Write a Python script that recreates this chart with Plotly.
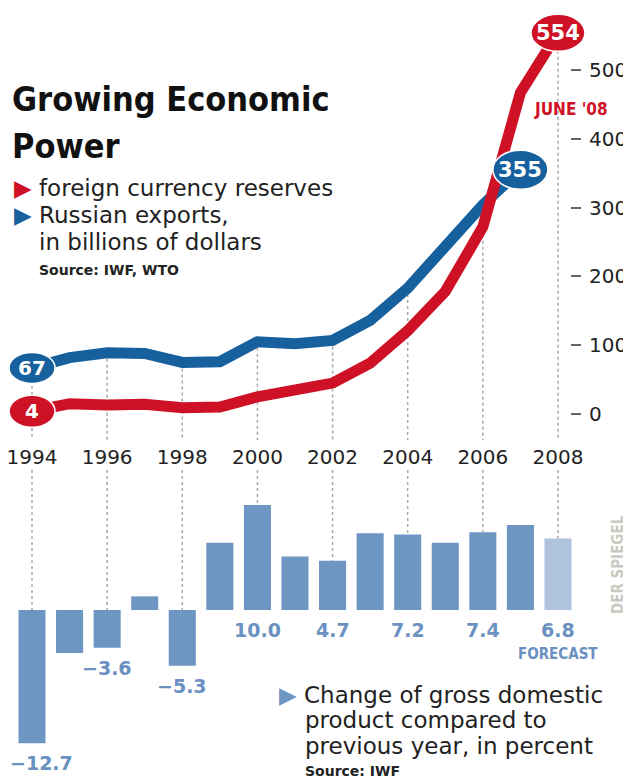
import plotly.graph_objects as go

# ---------------- data ----------------
exp_years = [1994, 1995, 1996, 1997, 1998, 1999, 2000, 2001, 2002, 2003, 2004, 2005, 2006, 2007]
exports = [67, 82, 89, 88, 75, 76, 105, 102, 107, 136, 183, 244, 304, 355]

res_years = [1994, 1995, 1996, 1997, 1998, 1999, 2000, 2001, 2002, 2003, 2004, 2005, 2006, 2007, 2008]
reserves = [4, 15, 13, 14, 9, 10, 25, 33, 45, 74, 121, 178, 272, 467, 554]

gdp_years = [1994, 1995, 1996, 1997, 1998, 1999, 2000, 2001, 2002, 2003, 2004, 2005, 2006, 2007, 2008]
gdp = [-12.7, -4.1, -3.6, 1.3, -5.3, 6.4, 10.0, 5.1, 4.7, 7.3, 7.2, 6.4, 7.4, 8.1, 6.8]
forecast_year = 2008

x_ticks = [1994, 1996, 1998, 2000, 2002, 2004, 2006, 2008]
y_ticks = [0, 100, 200, 300, 400, 500]

# ---------------- style / layout ----------------
OFF = 8                      # page body margin of the html page
W, H = 631 - OFF, 784 - OFF  # figure size
RED = "#cf1126"
BLUE = "#17609e"
BAR = "#6e96c3"
BAR_FC = "#afc2de"
BAR_TXT = "#6a91c1"
DOT = "#a8a8a8"
TXT = "#222222"
FONT = "DejaVu Sans"
COND = "DejaVu Sans Condensed, DejaVu Sans"


def fx(px):  # picture px -> figure px (x)
    return px - OFF


def fy(px):  # picture px -> figure px (y)
    return px - OFF


def py(px):  # picture px -> paper y
    return 1 - fy(px) / H


def pxx(px):  # picture px -> paper x
    return fx(px) / W


X_PX0, PX_YEAR = 32.0, 37.57           # picture pixel of 1994, pixels per year
x_range = [1994 - fx(X_PX0) / PX_YEAR, 1994 + (W - fx(X_PX0)) / PX_YEAR]

TOP_ZERO, TOP_SCALE, TOP_DOM = 414.0, 0.688, (10.0, 440.0)
top_range = [(TOP_ZERO - TOP_DOM[1]) / TOP_SCALE, (TOP_ZERO - TOP_DOM[0]) / TOP_SCALE]

BOT_ZERO, BOT_SCALE, BOT_DOM = 610.0, 10.5, (470.0, 784.0)
bot_range = [(BOT_ZERO - BOT_DOM[1]) / BOT_SCALE, (BOT_ZERO - BOT_DOM[0]) / BOT_SCALE]

fig = go.Figure()

# lines
fig.add_trace(go.Scatter(x=exp_years, y=exports, mode="lines",
                         line=dict(color=BLUE, width=11), xaxis="x", yaxis="y",
                         hoverinfo="skip", cliponaxis=False))
fig.add_trace(go.Scatter(x=res_years, y=reserves, mode="lines",
                         line=dict(color=RED, width=11), xaxis="x", yaxis="y",
                         hoverinfo="skip", cliponaxis=False))

# bars
bar_colors = [BAR_FC if yr == forecast_year else BAR for yr in gdp_years]
fig.add_trace(go.Bar(x=gdp_years, y=gdp, marker=dict(color=bar_colors, line=dict(width=0)),
                     width=0.72, xaxis="x2", yaxis="y2", hoverinfo="skip", cliponaxis=False))

shapes = []
annotations = []

# dotted guide lines
for yr in x_ticks:
    vals = []
    if yr in exp_years:
        vals.append(exports[exp_years.index(yr)])
    if yr in res_years:
        vals.append(reserves[res_years.index(yr)])
    top = max(vals)
    shapes.append(dict(type="line", xref="x", yref="y", x0=yr, x1=yr, y0=top, y1=top_range[0],
                       line=dict(color=DOT, width=1.5, dash="dot"), layer="below"))
    g = gdp[gdp_years.index(yr)]
    shapes.append(dict(type="line", xref="x2", yref="y2", x0=yr, x1=yr, y0=bot_range[1], y1=max(g, 0),
                       line=dict(color=DOT, width=1.5, dash="dot"), layer="below"))

# end bubbles
bubbles = [
    (exp_years[0], exports[0], BLUE, 23, 15.5, 20),
    (res_years[0], reserves[0], RED, 23, 16, 20),
    (exp_years[-1], exports[-1], BLUE, 27.5, 19.5, 21),
    (res_years[-1], reserves[-1], RED, 27, 18.5, 21),
]
for x, v, col, hw, hh, fs in bubbles:
    shapes.append(dict(type="circle", xref="x", yref="y",
                       x0=x - hw / PX_YEAR, x1=x + hw / PX_YEAR,
                       y0=v - hh / TOP_SCALE, y1=v + hh / TOP_SCALE,
                       fillcolor=col, line=dict(color="white", width=1.5), layer="above"))
    annotations.append(dict(x=x, y=v, xref="x", yref="y", text=f"<b>{v}</b>", showarrow=False,
                            font=dict(family=FONT, size=fs, color="white"),
                            xanchor="center", yanchor="middle"))

# JUNE '08
annotations.append(dict(x=res_years[-1], y=reserves[-1], xref="x", yref="y", text="<b>JUNE '08</b>",
                        showarrow=False, xshift=13, yshift=-76,
                        font=dict(family=COND, size=17, color=RED),
                        xanchor="center", yanchor="middle"))

# bar value labels
for yr in x_ticks:
    g = gdp[gdp_years.index(yr)]
    lab = f"{g:.1f}".replace("-", "\u2212")
    annotations.append(dict(x=yr, y=min(g, 0), xref="x2", yref="y2", text=f"<b>{lab}</b>",
                            showarrow=False, yshift=-20, xshift=(9 if yr == x_ticks[0] else 0),
                            font=dict(family=FONT, size=19, color=BAR_TXT),
                            xanchor="center", yanchor="middle"))
annotations.append(dict(x=forecast_year, y=0, xref="x2", yref="y2", text="<b>FORECAST</b>",
                        showarrow=False, yshift=-44,
                        font=dict(family=COND, size=15, color=BAR_TXT),
                        xanchor="center", yanchor="middle"))

# title
annotations.append(dict(x=pxx(10), y=py(99), xref="paper", yref="paper", text="<b>Growing Economic</b>",
                        showarrow=False, xanchor="left", yanchor="middle",
                        font=dict(family=COND, size=34, color="#111111")))
annotations.append(dict(x=pxx(10), y=py(146), xref="paper", yref="paper", text="<b>Power</b>",
                        showarrow=False, xanchor="left", yanchor="middle",
                        font=dict(family=COND, size=34, color="#111111")))

# top legend
top_leg = [
    (188, f"<span style='color:{RED}'>\u25B6</span> foreign currency reserves", 12),
    (215, f"<span style='color:{BLUE}'>\u25B6</span> Russian exports,", 12),
    (242, "in billions of dollars", 37),
]
for y, t, x in top_leg:
    annotations.append(dict(x=pxx(x), y=py(y), xref="paper", yref="paper", text=t, showarrow=False,
                            xanchor="left", yanchor="middle",
                            font=dict(family=FONT, size=23, color=TXT)))
annotations.append(dict(x=pxx(37), y=py(270), xref="paper", yref="paper", text="<b>Source: IWF, WTO</b>",
                        showarrow=False, xanchor="left", yanchor="middle",
                        font=dict(family=FONT, size=14, color=TXT)))

# bottom legend
bot_leg = [
    (695, f"<span style='color:{BAR}'>\u25B6</span> Change of gross domestic", 277),
    (720, "product compared to", 303),
    (746, "previous year, in percent", 303),
]
for y, t, x in bot_leg:
    annotations.append(dict(x=pxx(x), y=py(y), xref="paper", yref="paper", text=t, showarrow=False,
                            xanchor="left", yanchor="middle",
                            font=dict(family=FONT, size=23, color=TXT)))
annotations.append(dict(x=pxx(303), y=py(771), xref="paper", yref="paper", text="<b>Source: IWF</b>",
                        showarrow=False, xanchor="left", yanchor="middle",
                        font=dict(family=FONT, size=14, color=TXT)))

# DER SPIEGEL
annotations.append(dict(x=pxx(618), y=py(565), xref="paper", yref="paper", text="<b>DER SPIEGEL</b>",
                        showarrow=False, textangle=-90, xanchor="center", yanchor="middle",
                        font=dict(family=COND, size=15, color="#c9c9c1")))

fig.update_layout(
    width=W, height=H,
    margin=dict(l=0, r=0, t=0, b=0),
    paper_bgcolor="white", plot_bgcolor="white",
    showlegend=False,
    xaxis=dict(domain=[0, 1], range=x_range, anchor="y", tickvals=x_ticks,
               ticktext=[str(v) for v in x_ticks], ticks="", showgrid=False, zeroline=False,
               showline=False, tickfont=dict(family=FONT, size=20, color=TXT),
               ticklabelstandoff=3, ticklabeloverflow="allow", fixedrange=True),
    yaxis=dict(domain=[py(TOP_DOM[1]), py(TOP_DOM[0])], range=top_range, anchor="free",
               position=pxx(570), side="right", tickvals=y_ticks, ticks="outside", ticklen=10,
               tickwidth=2, tickcolor="#666666", showgrid=False, zeroline=False, showline=False,
               tickfont=dict(family=FONT, size=20, color=TXT), ticklabelstandoff=4,
               ticklabeloverflow="allow", fixedrange=True),
    xaxis2=dict(domain=[0, 1], matches="x", anchor="y2", visible=False),
    yaxis2=dict(domain=[py(BOT_DOM[1]), py(BOT_DOM[0])], range=bot_range, anchor="x2",
                visible=False, fixedrange=True),
    shapes=shapes,
    annotations=annotations,
    bargap=0.2,
)

fig.write_html("out.html")
